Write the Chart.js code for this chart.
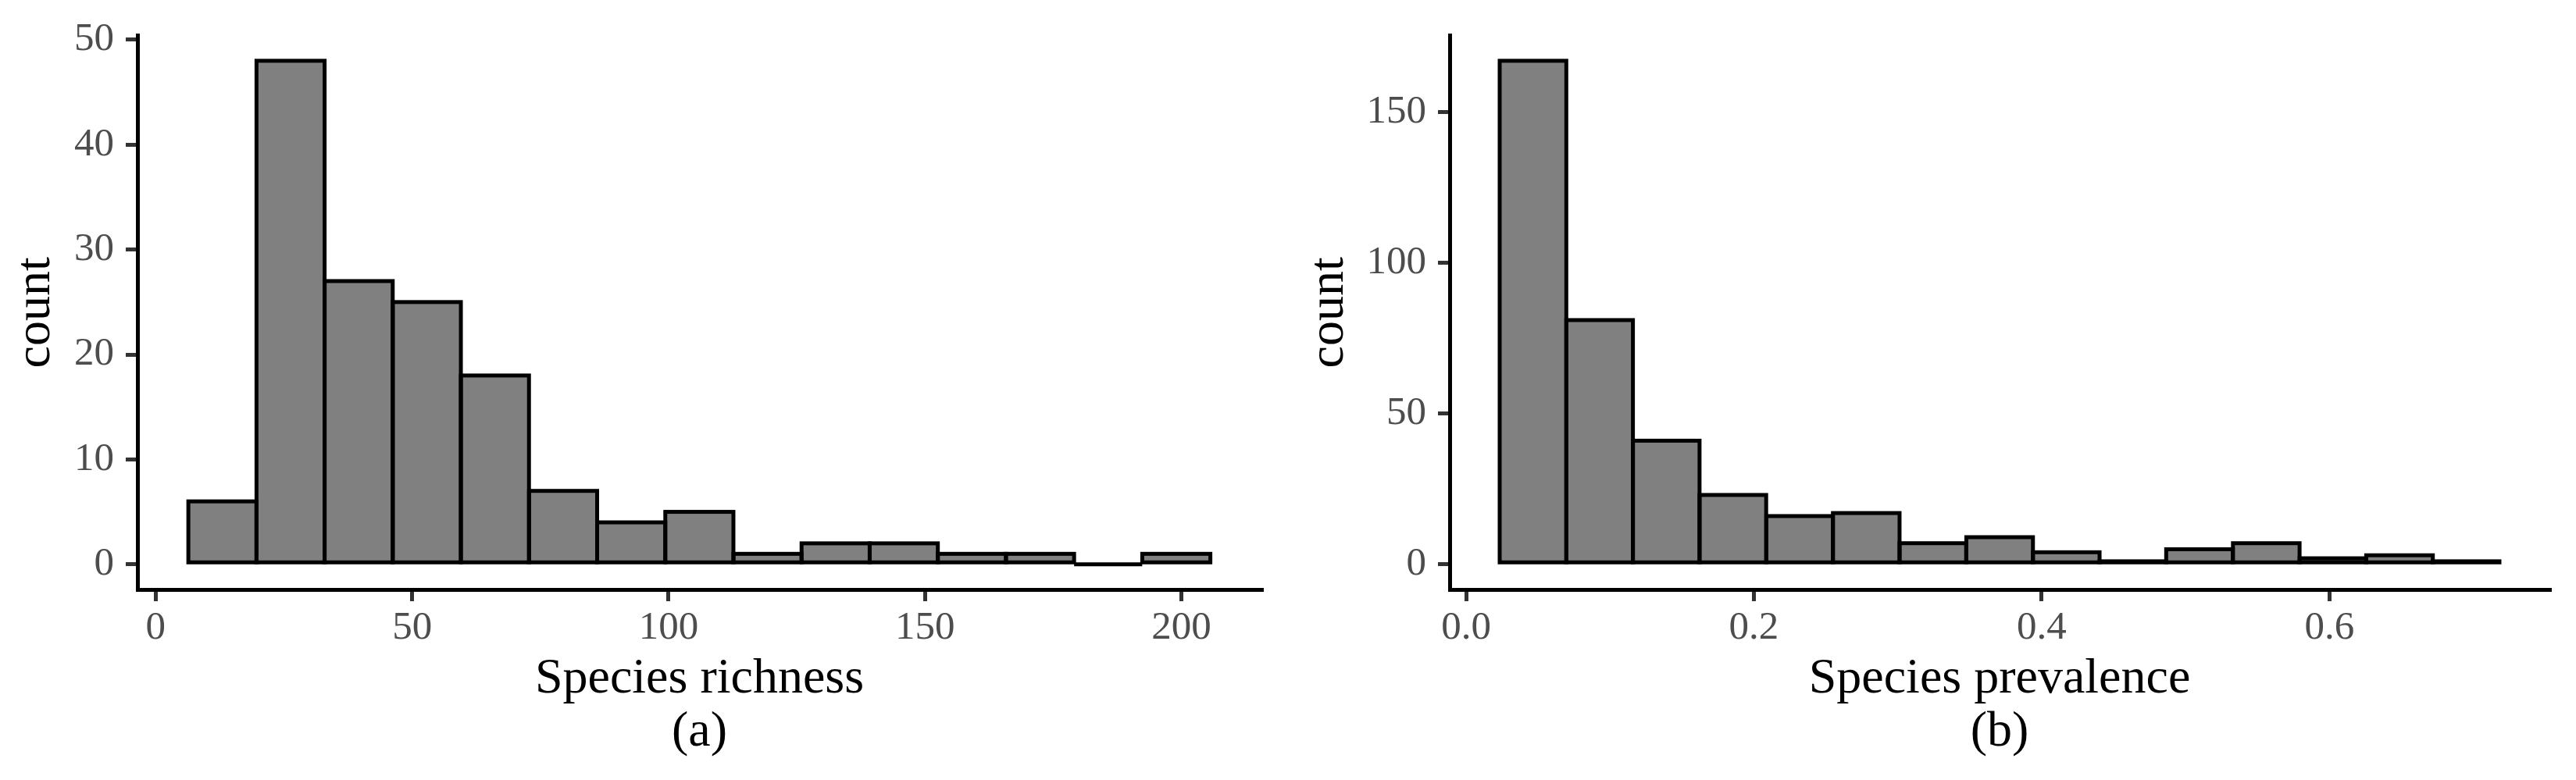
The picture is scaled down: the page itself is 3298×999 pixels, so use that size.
<!DOCTYPE html>
<html>
<head>
<meta charset="utf-8">
<script src="https://cdn.jsdelivr.net/npm/chart.js@4.4.1/dist/chart.umd.min.js"></script>
<style>
  html, body { margin: 0; padding: 0; background: #fff; }
  #wrap { position: relative; width: 3298px; height: 999px; background: #fff; }
  canvas { position: absolute; top: 0; }
  #richnessChart { left: 0; }
  #prevalenceChart { left: 1650px; }
</style>
</head>
<body>
<div id="wrap">
  <canvas id="richnessChart" width="1650" height="999"></canvas>
  <canvas id="prevalenceChart" width="1648" height="999"></canvas>
</div>
<script>
// (a) species richness: bin centres and counts
const richnessBins = [13, 26.29, 39.57, 52.86, 66.14, 79.43, 92.71, 106, 119.29, 132.57, 145.86, 159.14, 172.43, 185.71, 199];
const richnessCounts = [6, 48, 27, 25, 18, 7, 4, 5, 1, 2, 2, 1, 1, 0, 1];
const richnessXTicks = [0, 50, 100, 150, 200];
const richnessXLabels = ["0", "50", "100", "150", "200"];
const richnessYTicks = [0, 10, 20, 30, 40, 50];
const richnessYLabels = ["0", "10", "20", "30", "40", "50"];

// (b) species prevalence
const prevalenceBins = [0.0465, 0.0928, 0.1391, 0.1854, 0.2318, 0.2781, 0.3244, 0.3708, 0.4171, 0.4634, 0.5097, 0.5561, 0.6024, 0.6487, 0.695];
const prevalenceCounts = [167, 81, 41, 23, 16, 17, 7, 9, 4, 1, 5, 7, 2, 3, 1];
const prevalenceXTicks = [0, 0.2, 0.4, 0.6];
const prevalenceXLabels = ["0.0", "0.2", "0.4", "0.6"];
const prevalenceYTicks = [0, 50, 100, 150];
const prevalenceYLabels = ["0", "50", "100", "150"];

const tickFont = { family: "Liberation Serif", size: 51 };
const titleFont = { family: "Liberation Serif", size: 64, lineHeight: 1.0625 };

// ggplot strokes the bar outline centred on the edge, so draw it ourselves
const barOutline = {
  id: "barOutline",
  afterDatasetsDraw(chart) {
    const ctx = chart.ctx;
    const meta = chart.getDatasetMeta(0);
    ctx.save();
    ctx.lineWidth = 5;
    ctx.strokeStyle = "#000";
    ctx.lineJoin = "miter";
    meta.data.forEach((bar) => {
      const { x, y, base, width } = bar.getProps(["x", "y", "base", "width"], true);
      ctx.strokeRect(x - width / 2, y, width, base - y);
    });
    ctx.restore();
  }
};

function axisStyle() {
  return {
    grid: {
      display: true,
      offset: false,
      drawOnChartArea: false,
      drawTicks: true,
      tickLength: 15,
      lineWidth: 5,
      tickWidth: 5,
      tickColor: "#333333"
    },
    border: { display: true, color: "#000", width: 5 }
  };
}

function buildHistogram(canvasId, opts) {
  const canvas = document.getElementById(canvasId);
  const xStyle = axisStyle();
  const yStyle = axisStyle();

  return new Chart(canvas, {
    type: "bar",
    data: {
      datasets: [
        {
          data: opts.bins.map((x, i) => ({ x, y: opts.counts[i] })),
          backgroundColor: "#808080",
          borderWidth: 0,
          barPercentage: 1,
          categoryPercentage: 1
        }
      ]
    },
    options: {
      responsive: false,
      animation: false,
      devicePixelRatio: 1,
      layout: { padding: { top: 45, right: opts.rightPad, left: 0, bottom: 0 } },
      plugins: {
        legend: { display: false },
        tooltip: { enabled: false }
      },
      scales: {
        x: {
          type: "linear",
          min: opts.xMin,
          max: opts.xMax,
          offset: false,
          afterBuildTicks(axis) {
            axis.ticks = opts.xTicks.map((v) => ({ value: v }));
          },
          afterFit(axis) {
            axis.height = 244;
          },
          ticks: {
            autoSkip: false,
            maxRotation: 0,
            font: tickFont,
            color: "#4D4D4D",
            padding: 4,
            callback: (v, i) => opts.xLabels[i]
          },
          ...xStyle,
          title: {
            display: true,
            text: [opts.xTitle, opts.panel],
            font: titleFont,
            color: "#000",
            padding: { top: 0, bottom: 27 }
          }
        },
        y: {
          type: "linear",
          min: opts.yMin,
          max: opts.yMax,
          afterBuildTicks(axis) {
            axis.ticks = opts.yTicks.map((v) => ({ value: v }));
          },
          afterFit(axis) {
            axis.width = opts.yWidth;
          },
          ticks: {
            autoSkip: false,
            font: tickFont,
            color: "#4D4D4D",
            padding: 15,
            callback: (v, i) => opts.yLabels[i]
          },
          ...yStyle,
          title: {
            display: true,
            text: "count",
            font: titleFont,
            color: "#000",
            padding: { top: opts.yTitlePad, bottom: 0 }
          }
        }
      }
    },
    plugins: [barOutline]
  });
}

window.addEventListener("DOMContentLoaded", () => {
  buildHistogram("richnessChart", {
    bins: richnessBins,
    counts: richnessCounts,
    xTicks: richnessXTicks,
    xLabels: richnessXLabels,
    yTicks: richnessYTicks,
    yLabels: richnessYLabels,
    xMin: -3.56,
    xMax: 215.6,
    yMin: -2.4,
    yMax: 50.4,
    yWidth: 176,
    rightPad: 35,
    yTitlePad: 12,
    xTitle: "Species richness",
    panel: "(a)"
  });

  buildHistogram("prevalenceChart", {
    bins: prevalenceBins,
    counts: prevalenceCounts,
    xTicks: prevalenceXTicks,
    xLabels: prevalenceXLabels,
    yTicks: prevalenceYTicks,
    yLabels: prevalenceYLabels,
    xMin: -0.0114,
    xMax: 0.7529,
    yMin: -8.35,
    yMax: 175.35,
    yWidth: 206,
    rightPad: 34,
    yTitlePad: 18,
    xTitle: "Species prevalence",
    panel: "(b)"
  });
});
</script>
</body>
</html>
